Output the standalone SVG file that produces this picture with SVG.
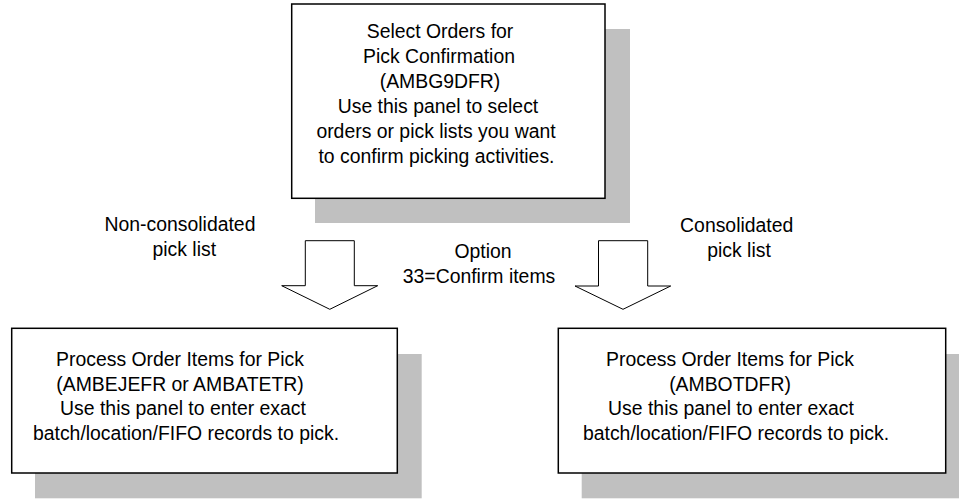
<svg xmlns="http://www.w3.org/2000/svg" width="959" height="501" viewBox="0 0 959 501">
<style>
.shadow{fill:#c0c0c0;stroke:none}
.box{fill:#fff;stroke:#000;stroke-width:1.5}
.arrow{fill:#fff;stroke:#000;stroke-width:1}
text{font-family:"Liberation Sans",Arial,sans-serif;font-size:19.4px;fill:#000;text-anchor:middle}
</style>
<rect width="959" height="501" fill="#fff"/>
<g id="node-select">
<rect class="shadow" x="315" y="29" width="315" height="194"/>
<rect class="box" x="291.7" y="4" width="313.3" height="194.3"/>
<text x="440" y="37.7">Select Orders for</text>
<text x="439" y="62.7">Pick Confirmation</text>
<text x="440" y="87.7">(AMBG9DFR)</text>
<text x="438" y="112.7">Use this panel to select</text>
<text x="436" y="137.7">orders or pick lists you want</text>
<text x="436.5" y="162.7">to confirm picking activities.</text>
</g>
<g id="node-process-left">
<rect class="shadow" x="35" y="354" width="386.7" height="144.3"/>
<rect class="box" x="11.7" y="328.3" width="385.6" height="144.7"/>
<text x="180" y="366">Process Order Items for Pick</text>
<text x="180" y="390.5">(AMBEJEFR or AMBATETR)</text>
<text x="183" y="415">Use this panel to enter exact</text>
<text x="186" y="439.5">batch/location/FIFO records to pick.</text>
</g>
<g id="node-process-right">
<rect class="shadow" x="581.7" y="354" width="387.4" height="144.3"/>
<rect class="box" x="558.3" y="328.3" width="387.4" height="144.7"/>
<text x="730" y="366">Process Order Items for Pick</text>
<text x="730" y="390.5">(AMBOTDFR)</text>
<text x="731" y="415">Use this panel to enter exact</text>
<text x="736" y="439.5">batch/location/FIFO records to pick.</text>
</g>
<g id="connectors">
<polygon class="arrow" points="305.3,240.7 354.3,240.7 354.3,285.7 377.7,285.7 329.8,309.3 281.7,285.7 305.3,285.7"/>
<polygon class="arrow" points="598.5,240.7 647.7,240.7 647.7,286 670.7,286 623,309.3 575,286 598.5,286"/>
<text x="180" y="231">Non-consolidated</text>
<text x="184.3" y="256">pick list</text>
<text x="483" y="258.3">Option</text>
<text x="479" y="283.3">33=Confirm items</text>
<text x="736.7" y="231.5">Consolidated</text>
<text x="739" y="256.5">pick list</text>
</g>
</svg>
